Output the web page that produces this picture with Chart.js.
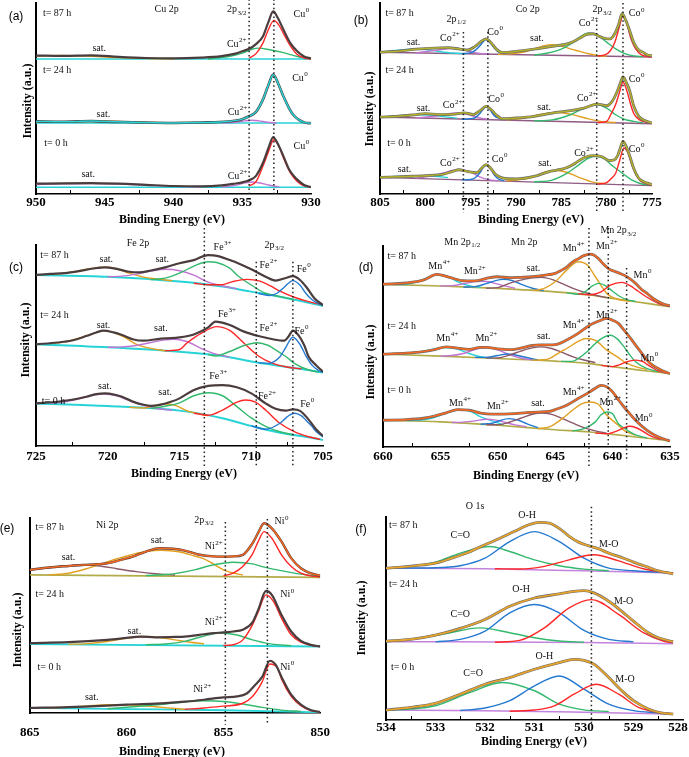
<!DOCTYPE html>
<html>
<head>
<meta charset="utf-8">
<script src="https://cdn.jsdelivr.net/npm/chart.js@4.4.1/dist/chart.umd.min.js"></script>
<style>
  html, body { margin: 0; padding: 0; background: #fff; overflow: hidden; width: 689px; height: 757px; }
  #fig { position: relative; width: 689px; height: 757px; overflow: hidden; }
  #fig canvas { position: absolute; }
  .txt { position: absolute; white-space: nowrap; color: #000; transform: translate(-50%, -50%); }
  .ytitle { font: bold 12px "Liberation Serif", serif; transform: translate(-50%, -50%) rotate(-90deg); }
  .xtitle { font: bold 12px "Liberation Serif", serif; }
  .letter { font: 12px "Liberation Sans", sans-serif; }
</style>
</head>
<body>
<div id="fig"></div>
<script>
/* ---- data : [binding energy (eV), intensity (a.u.)], spectra stacked 87 h / 24 h / 0 h ---- */

// (a) Cu 2p
const CU_87_BG  = [[950,70.7],[930,70.7]];
const CU_87_SAT = [[950,72.2],[948,72.5],[946,72.1],[944,71.4],[942,70.9],[940,70.7]];
const CU_87_CU2 = [[937.5,70.7],[936,72],[935,73.8],[934.3,75.8],[933.8,76.4],[933,75.5],[932,74],[931,72],[930,71]];
const CU_87_CU0 = [[934.5,71.2],[934,73.5],[933.5,79],[933.1,86],[932.7,90.9],[932.3,88],[932,84],[931.5,77.5],[931,73],[930.5,71.2],[930,70.7]];
const CU_87_ENV = [[950,72.5],[948,72.3],[946,72.6],[944,71.8],[942,71.2],[940,71],[938,71.4],[936.5,72.2],[935.5,73.5],[935,74.7],[934.5,76],[934,78.5],[933.5,82.5],[933.1,90],[932.75,95.6],[932.4,92],[932,86],[931.5,79],[931,74.7],[930.5,72],[930,71]];
const CU_24_BG  = [[950,37.2],[930,37.2]];
const CU_24_SAT = [[950,37.6],[947,37.9],[945,38.1],[943,37.7],[941,37.3]];
const CU_24_CU2 = [[936.5,37.2],[935.5,37.6],[934.8,38.3],[934.3,38.6],[933.8,38.3],[933.2,37.6],[932.5,37.2]];
const CU_24_ENV = [[950,38],[948,37.8],[946,38.2],[945,37.9],[943,37.6],[940,37.2],[938,37.4],[936,38],[935,39.2],[934.5,40.7],[934,43],[933.5,49.4],[933.1,57],[932.75,62.5],[932.4,58],[932,51],[931.6,45],[931.3,41.5],[930.8,38.5],[930.5,37.5],[930,37]];
const CU_0_BG   = [[950,3.5],[930,3.5]];
const CU_0_SAT  = [[950,5],[948,5.3],[946,5.5],[944,5.2],[942,4.6],[940,4],[938,3.6]];
const CU_0_CU2  = [[936.5,3.6],[935.5,4.5],[934.8,5.8],[934.3,6.3],[933.8,5.9],[933,4.6],[932.3,3.7]];
const CU_0_CU0  = [[934.5,4.2],[934,6.5],[933.5,14.5],[933.1,22],[932.7,28.4],[932.3,24.5],[932,18.8],[931.5,11],[931,6.6],[930.5,4.3],[930,3.6]];
const CU_0_ENV  = [[950,5.4],[948,5.6],[946,5.7],[944,5.4],[942,4.8],[940,4.2],[938,4],[936.5,4.5],[935.5,5.5],[935,6.1],[934.5,7.2],[934,9.5],[933.5,16.2],[933.1,24],[932.75,29.8],[932.4,26],[932,19.7],[931.6,13],[931.2,9],[931,7.5],[930.5,4.7],[930,3.6]];

// (b) Co 2p
const CO_87_BG   = [[805,74.2],[775,71.7]];
const CO_87_SAT1 = [[805,74.3],[803.5,75],[802,75.7],[801,75.9],[800,75.6],[798.5,74.6],[797,73.8],[795.5,73.5]];
const CO_87_CO2B = [[801,73.9],[799.5,74.8],[798,75.8],[797,76.1],[796,75.6],[795,74.5],[794,73.6],[793,73.2]];
const CO_87_CO0B = [[796,73.5],[795,74],[794.5,75.2],[794,77.5],[793.6,79.8],[793.3,80.8],[792.9,79.5],[792.4,76.5],[792,74.5],[791.5,73.5],[791,73.1]];
const CO_87_SAT2 = [[792,73.1],[790,73.7],[789,74.5],[788,76],[787,77.5],[786,78.2],[785,77.5],[784,76],[783,74.7],[782,73.4],[781,72.5],[780,72.2]];
const CO_87_CO2  = [[788,72.7],[786.5,73.8],[785,75.9],[784,78.5],[783,82],[782,84.3],[781,83],[780,79.5],[779,76],[778,73.5],[777,72.3],[776,71.9]];
const CO_87_CO0  = [[781,72.3],[780.2,72.8],[779.6,75],[779.1,79.5],[778.6,87.5],[778.2,93.4],[777.8,89.5],[777.3,81],[776.8,76],[776.2,73],[775.5,72],[775,71.7]];
const CO_87_ENV  = [[805,74.2],[803,74.8],[801,75.8],[799,76.4],[797.5,76.6],[796.2,75.9],[795.3,75.4],[794.5,77.3],[793.8,80],[793.3,81.2],[792.7,79],[792.2,76],[791.6,74.2],[791,74.2],[790,74.7],[788,75.9],[786,77.3],[784,79.1],[783,81.5],[782.2,83.6],[781.5,83.9],[780.8,82.5],[780.2,81.5],[779.6,81.2],[779.1,84],[778.7,88.5],[778.3,94.4],[777.9,91],[777.5,86],[777,79.1],[776.5,75.6],[776,74.2],[775.5,72.8],[775,72.4]];
const CO_24_BG   = [[805,40.3],[775,36.8]];
const CO_24_SAT1 = [[805,40.3],[803,40.9],[801.5,41.4],[800.5,41.5],[799.5,41.3],[798,40.5],[796.5,39.7]];
const CO_24_CO2B = [[801,39.9],[799,40.7],[797.8,41.8],[796.5,42.4],[795.3,41.6],[794,39.8],[793,39.1]];
const CO_24_CO0B = [[796,39.1],[795,39.4],[794.5,40],[794,42],[793.6,44.5],[793.3,45.5],[792.9,44.3],[792.4,41],[792,39.8],[791.3,39]];
const CO_24_SAT2 = [[791,38.8],[789,39.8],[787.5,41.5],[785.5,42.8],[784,41.8],[782,39.3],[780.5,37.9],[779,37.4]];
const CO_24_CO2  = [[788,38.3],[786,38.8],[784,41.5],[782.5,45],[781.2,46.8],[780,45],[779,41.5],[778,39],[777,38],[776,37.3]];
const CO_24_CO0  = [[781,37.4],[780,38],[779.5,42],[779,47],[778.6,53],[778.2,58.5],[777.8,54.5],[777.3,46],[777,42],[776.5,39.3],[776,38],[775,37]];
const CO_24_ENV  = [[805,40.3],[803,40.7],[801,41.6],[800,42.1],[798.5,41.6],[797,41.7],[795.7,42.5],[794.7,41.6],[794,43.5],[793.3,45.9],[792.7,44],[792.2,41.5],[791.5,39.4],[790,39.8],[788,40.7],[786,42.4],[784,43.6],[782.5,45],[781,47.1],[780,46.2],[779.4,48.5],[778.9,53],[778.5,58],[778.2,61.3],[777.8,58],[777.5,54.6],[777,45.9],[776.5,41],[776,38.9],[775,37.2]];
const CO_0_BG    = [[805,8.7],[775,4.4]];
const CO_0_SAT1  = [[805,8.7],[803,9.2],[801,9.6],[799,9.3],[797.5,8.6]];
const CO_0_CO2B  = [[801,8.3],[799.5,9.2],[798,11],[796.5,12.7],[795,11.5],[794,9],[793,7.5],[792,7]];
const CO_0_CO0B  = [[796,7.4],[795,7.6],[794.5,8.5],[794,11],[793.6,14],[793.3,15],[792.9,13.8],[792.4,10],[792,8],[791.3,7]];
const CO_0_SAT2  = [[791,6.9],[789.5,7.5],[788,9],[786.8,11.5],[785.7,12.4],[784.5,11.5],[783,8.6],[781.5,6.2],[780,5.3]];
const CO_0_CO2   = [[788,6.3],[786,7.3],[784.5,10.5],[783,15.5],[782,18.8],[781.2,19.7],[780.3,18.5],[779.3,14.5],[778.3,11],[777.3,7.5],[776.3,5.5],[775.5,4.8]];
const CO_0_CO0   = [[781,5.2],[780,6],[779.4,8.5],[779,11],[778.6,17],[778.1,24.1],[777.7,22],[777.2,15],[776.8,10.5],[776.3,7],[775.5,5.2],[775,4.7]];
const CO_0_ENV   = [[805,8.7],[802,9.2],[800,9.6],[798,10.4],[797,11.8],[796.3,12.7],[795.3,11.7],[794.3,11.2],[793.8,13.5],[793.3,15.4],[792.8,13.5],[792.3,10.5],[791.5,8.4],[790,7.9],[788,9.2],[786.5,11.5],[785.6,12.4],[784.5,13.6],[783.5,16],[782.5,19],[781.5,20.1],[780.5,19.5],[779.7,17.5],[779.2,17.8],[778.8,20],[778.5,24],[778.2,27.6],[777.9,25.5],[777.5,20.6],[777,13.2],[776.5,8.5],[776,6.6],[775,4.9]];

// (c) Fe 2p
const FE_87_BG   = [[725,85.1],[720,84.2],[715,81.8],[712,79.3],[710,76.8],[708,74.3],[706,71.3],[705,69.7]];
const FE_87_SAT1 = [[724,85.3],[723,86],[722,87.2],[721,88.5],[720.2,88.9],[719.4,88.2],[718.5,86],[717.5,84],[716.5,83],[715.5,82.2]];
const FE_87_SAT2 = [[720,84.2],[719,84.5],[718,85.5],[717,87],[716,87.9],[715,87.2],[714,85],[713,81.5],[712,79.6],[711,78.2]];
const FE_87_FE3  = [[717,82.8],[716,83.5],[715,86],[714,89.5],[713,91.7],[712.4,91.3],[711.5,88.5],[711,85.1],[710,80.1],[709,76],[708,74.3],[707,72.8]];
const FE_87_FE2  = [[714,81],[713,80.2],[712,80.3],[711.3,81.8],[710.3,82.9],[709.4,82],[708.7,79.8],[708,77],[707,74],[706,71.8],[705,70.2]];
const FE_87_FE0  = [[709.5,75.9],[708.7,74.9],[708.2,76],[707.7,79],[707.1,82.3],[706.6,80],[706.2,76],[705.8,73],[705.3,70.8],[705,70]];
const FE_87_ENV  = [[725,85.1],[724,85.6],[723,86],[722,87],[721,88.3],[720.2,88.9],[719.3,88],[718.5,86.7],[717.8,86.4],[717,87.3],[716,88.9],[715,90.9],[714,92.5],[713,95],[712.3,94.5],[711.5,92.5],[711,91.2],[710,87.9],[709,84.2],[708.3,82.3],[707.6,83.6],[707.1,84.5],[706.6,82.6],[706.1,78.5],[705.6,73.5],[705,70.1]];
const FE_24_BG   = [[725,50.6],[720,49.1],[715,46.9],[712,44.8],[710,42],[708,39.8],[706,37.8],[705,36.5]];
const FE_24_SAT1 = [[724,50.9],[723,51.8],[722,53.6],[721,56],[720.3,57.4],[719.5,56.2],[718.8,54],[718,50.6],[717,48.6],[716,47.4]];
const FE_24_SAT2 = [[720,49.1],[719,49.3],[718,50],[717,51.5],[716,52.8],[715.4,53.1],[714.5,52],[713.5,48.6],[712.5,45.8],[711.5,44.2]];
const FE_24_FE3  = [[716,47.4],[715,48],[714.5,51.1],[713.5,56],[712.4,59.4],[711.5,57.5],[710.5,51.1],[709.5,44.8],[708.5,41.1],[707.5,39.3],[706.5,38.3]];
const FE_24_FE2  = [[713,45.5],[712.5,44.8],[711.5,47],[710.5,50],[709.6,51.4],[708.8,50],[708.3,47.8],[707.5,44],[707,41.1],[706,37.8],[705.3,36.8]];
const FE_24_FE0  = [[709.5,41.5],[708.8,41.1],[708,44.4],[707.6,49],[707.1,54.1],[706.6,50.5],[706.2,45],[705.8,40.5],[705.3,37.5],[705,36.7]];
const FE_24_ENV  = [[725,50.6],[723.5,51.5],[722.5,52.5],[721.5,54.7],[720.8,56.5],[720.3,57.4],[719.6,56.5],[719,55.2],[718.2,53],[717.5,52.4],[716.5,53.2],[716,53.5],[715,54],[714,55.5],[713,59],[712.5,61.9],[711.5,60.2],[710.5,56.9],[709.5,54.7],[708.5,53.1],[707.7,52.4],[707.4,54.5],[707.1,57.4],[706.7,55],[706.3,50],[706,44.4],[705.5,40.3],[705,37]];
const FE_0_BG    = [[725,21.2],[720,19.9],[715,17.6],[712,13.8],[710,10],[708,6.6],[706,4.3],[705,3]];
const FE_0_SAT1  = [[724,21.3],[723,22],[722,23.5],[721,25.3],[720.2,25.9],[719.3,24.8],[718.5,22.6],[717.5,20.2],[716.5,18.5],[715.5,17.8]];
const FE_0_SAT2  = [[718.5,19.2],[717.5,18.9],[716.8,20],[716,20.9],[715.3,20.2],[714.5,17.6],[713.5,15.8],[713,15.1]];
const FE_0_FE3   = [[717,18.7],[716,19.8],[715,21.5],[714,25],[713,26.5],[712,25],[711,19.6],[710,14],[709,9.8],[708,7.1],[707,5.5]];
const FE_0_FE2   = [[714,16.3],[713,15.3],[712,17.9],[711,21.8],[710.4,22.9],[709.7,21.8],[709,17.9],[708,11.3],[707,7.1],[706,4.6],[705.2,3.3]];
const FE_0_FE0   = [[710,10],[709,8.3],[708,11.3],[707.5,14.5],[707,16.3],[706.5,15],[706.2,12.9],[705.8,10],[705.5,7.3],[705,4.5]];
const FE_0_ENV   = [[725,21.2],[723.5,22],[722.5,23],[721.5,24.5],[720.8,25.8],[720.2,26.2],[719.5,25.5],[719,24.5],[718.3,22.2],[717.5,20.5],[717,20],[716.3,20.6],[715.6,22],[715,23.7],[714,27.9],[713,29.9],[712,30.3],[711,29.2],[710,26.2],[709,21.2],[708.3,18.5],[707.6,17.6],[707.1,18.2],[706.6,17.5],[706.1,14],[705.5,8.5],[705,5]];

// (d) Mn 2p
const MN_87_BG   = [[660,80.9],[655,80.1],[650,78.9],[645,77.2],[642,75.6],[640,73.9],[638,72.3],[636,70.6],[635,69.8]];
const MN_87_MN4B = [[659,80.8],[658,81],[657,82.2],[656,84.5],[655.2,85.9],[654.3,84.8],[653.5,82.2],[652.5,80.3],[651.5,79.4]];
const MN_87_MN2B = [[655,80.1],[654,80.3],[653,81.2],[652,82.3],[651.3,82.5],[650.5,81.8],[649.5,80.3],[648.5,79]];
const MN_87_X    = [[653,79.6],[652,79.8],[651,81.3],[650.2,82.8],[649.5,83.4],[648.7,82.7],[648,81],[647,79],[646,77.8]];
const MN_87_SAT  = [[651,79],[650,79.3],[649,81.4],[648,83],[647,84.2],[646.2,84.4],[645.3,83.4],[644.5,81.5],[643.5,79],[642.5,77],[641.5,75.5],[640.5,74.3]];
const MN_87_MN4  = [[647,77.8],[646,78.8],[645,82.2],[644,88],[643,92.2],[642.2,90.5],[641.5,84.7],[640.5,76.4],[639.5,73.4],[638.5,72.5]];
const MN_87_MN2  = [[644,76.7],[643,76],[642.4,77.2],[641.8,80],[641.2,81.4],[640.6,80.2],[640,77.5],[639.4,75],[638.7,73.2],[638,72.4]];
const MN_87_MN0  = [[643,76.3],[642,75.7],[641,77.2],[640.2,80.5],[639.2,81.9],[638.4,80],[638,78.4],[637,74.5],[636,71.4],[635,70]];
const MN_87_ENV  = [[660,81],[658,81.6],[656.5,83],[655.3,85.9],[654.2,84.4],[653,82.7],[652,82.6],[651,83.9],[650,84.7],[649,84.2],[648,84.4],[647,84.7],[646,85.4],[645,86.4],[644.5,87.8],[644,89.5],[643.5,92],[643,93.6],[642.5,95.2],[642,96],[641.6,95.4],[641.2,93.5],[640.8,91],[640.3,88.5],[639.8,87.3],[639.3,86.2],[638.7,84.5],[638,81.4],[637.5,78.5],[637,76.4],[636.5,74],[636,72.3],[635.5,71],[635,70.3]];
const MN_24_BG   = [[660,46.2],[655,45.2],[650,44],[645,42.7],[642,41.5],[640,39.9],[638,38.5],[636,37.2],[635,36.5]];
const MN_24_MN4B = [[659,46.1],[657.5,46.8],[656.5,47.5],[655.5,48.8],[654.5,49.5],[653.5,48.7],[652.5,46.5],[651.5,44.9],[650.5,44.2]];
const MN_24_MN2B = [[655,45.2],[654,45.5],[653,46.5],[652,48.5],[651,49.5],[650,48.3],[649,46],[648,44.3],[647,43.3]];
const MN_24_X    = [[652,44.6],[651,44.6],[650,45.5],[649.2,46.3],[648.5,45.8],[647.5,44.5],[646.5,43.3]];
const MN_24_SAT  = [[651,44.2],[650,44.3],[649,45.7],[648,47.7],[647,49.3],[646.2,49.8],[645.3,49],[644.5,47.3],[643.5,45],[642.5,43.3],[641.5,42]];
const MN_24_MN4  = [[647,43.2],[646,43.4],[645.5,44],[644.5,47.5],[644,49],[643,52.5],[642.3,54],[641.5,53],[640.5,48.2],[639.5,44.5],[639,42.4],[638,40],[637,38.5]];
const MN_24_MN2  = [[644.5,42.6],[643.5,42.6],[643,44],[642.3,47],[641.5,51.5],[640.8,54.5],[640.2,55.6],[639.6,53.8],[639,49.8],[638.5,45.8],[638,42.4],[637,39],[636,37.5]];
const MN_24_MN0  = [[641,40.6],[640,40],[639.5,40.7],[638.8,42.3],[638,43.2],[637.3,42.3],[637,41.1],[636.5,39.3],[636,37.9],[635.3,36.8]];
const MN_24_ENV  = [[660,46.2],[658,46.7],[656.5,47.5],[655.5,48.5],[654.5,49.8],[653.5,49.2],[652.5,48.6],[651.5,49.6],[651,49.6],[650,48.8],[649,48.4],[648,49.2],[647,50.5],[646.3,50.8],[645.5,50.8],[645,50.9],[644,53.2],[643,56.5],[642,60.6],[641,63.1],[640.5,64],[640,63.1],[639.5,61.5],[639,58.1],[638.5,54.5],[638,50.7],[637.5,47],[637,43.2],[636.5,40.6],[636,39],[635.5,37.5],[635,36.5]];
const MN_0_BG    = [[660,13.3],[655,12.5],[650,10.8],[645,8.6],[642,7.5],[640,6.3],[638,5],[636,3.7],[635,3]];
const MN_0_MN4B  = [[658,13.2],[657,13.3],[656,14],[655,15.8],[654,17.8],[653.2,18.6],[652.4,17.8],[651.5,15],[650.5,13],[649.5,11]];
const MN_0_MN2B  = [[654,12.2],[653,12.4],[652,13],[651,13.8],[650.3,13.5],[649.5,12.5],[648.5,11],[647.5,10.1]];
const MN_0_X     = [[651.5,11.3],[650.5,11.8],[649.8,13.2],[649,14.1],[648.2,13.3],[647.5,11.6],[646.5,9.6]];
const MN_0_SAT   = [[651,11.1],[650,11.1],[649,12.3],[648,14.3],[647,16.3],[646.2,16.9],[645.3,16.2],[644.5,14.5],[643.5,12],[642.5,9.6],[641.5,8],[640.5,6.8]];
const MN_0_MN4   = [[646.5,9.1],[645.5,10],[645,11.6],[644.3,14.5],[643.5,18.3],[642.7,21.5],[642,22.4],[641.3,21.5],[640.5,15.8],[639.5,10.8],[639,8.3],[638,5.8]];
const MN_0_MN2   = [[643.5,8],[642.5,9.1],[641.5,12.5],[641,16],[640.5,17.4],[640,16.5],[639.5,11.6],[639,9.5],[638.5,7.5],[638,6],[637,4.4]];
const MN_0_MN0   = [[641.5,6.9],[640.5,6.6],[639.5,8.3],[639,9.6],[638.5,10.3],[638,9.7],[637.5,8.3],[637,6.5],[636.5,5],[635.8,3.8]];
const MN_0_ENV   = [[660,13.3],[658,13.6],[656.5,14.3],[655.5,15.4],[654.5,17],[653.5,18.6],[652.5,18.3],[651.5,16.9],[650.5,16.4],[649.5,16.4],[648.5,16.6],[647.5,17.1],[646.5,17.4],[645.5,17.7],[645,18.6],[644,20.8],[643,24.1],[642,27.4],[641.3,30],[641,30.7],[640.5,29.9],[640,27.4],[639.5,23.5],[639,19.9],[638.5,16.5],[638,13.3],[637,8.3],[636,5],[635,3]];

// (e) Ni 2p
const NI_87_BG   = [[865,70.8],[850,69.5]];
const NI_87_SAT1 = [[865,73.4],[864,74.5],[863,75.5],[862.3,75.9],[861.5,75.5],[860.5,74],[859.5,72.5],[858.5,71.4],[857.5,70.8]];
const NI_87_SAT2 = [[864,70.9],[863,71.7],[862,74.2],[861,77.5],[860,80.5],[859,82.8],[858.2,83.5],[857.3,82.7],[856.5,80.5],[856,79],[855.5,76.3],[855,73.4],[854.5,71.8],[854,70.8]];
const NI_87_NI2  = [[859,70.5],[858,71],[857.5,71.5],[856.5,73.4],[855.5,76],[854.5,77.3],[853.5,76.5],[853,75.1],[852,73],[851,71.2],[850,70]];
const NI_87_NI0  = [[855,70.3],[854.5,71.7],[854,75.1],[853.5,81.5],[853.2,88],[852.9,93],[852.5,89.6],[852,81.1],[851.5,75.1],[851,71.7],[850.5,70.3],[850,69.8]];
const NI_87_ENV  = [[865,73.4],[864,74.6],[863,75.4],[862.3,75.9],[861.5,76.3],[861,76.8],[860.3,78.5],[859.6,80.5],[859,82.8],[858.3,84.5],[857.6,84.2],[857,83.3],[856.3,81.3],[855.5,80.3],[855,80.2],[854.5,80.3],[854,81.1],[853.5,87],[853.2,92.5],[852.9,97.3],[852.5,94.7],[852,87.9],[851.5,79.4],[851,74.2],[850.5,71.7],[850,70.5]];
const NI_24_BG   = [[865,35.3],[850,34.1]];
const NI_24_SAT  = [[863,35.2],[862,35.6],[861,36.7],[860,38.3],[859.2,39.2],[858.3,38.7],[857.5,37.5],[857,36.7],[856,35.5]];
const NI_24_NI2  = [[859,35],[858,35.4],[857,36.7],[856,39.5],[855.2,41],[854.3,40],[853.5,37.5],[853,36.3],[852.5,35.3],[851.5,34.5]];
const NI_24_NI0  = [[855,34.6],[854.5,35],[854,37.5],[853.5,45.2],[853.2,52],[852.8,60.6],[852.4,57],[852,48.6],[851.5,40.1],[851,36.3],[850.5,34.7],[850,34.1]];
const NI_24_ENV  = [[865,35.8],[863,36.3],[861,37.5],[860,38.5],[859.3,39.2],[858.5,38.8],[857.5,39],[857,39.2],[856,40.4],[855.5,41],[855,41.3],[854.5,41.8],[854,42.7],[853.5,46.5],[853.2,53],[852.8,62.6],[852.5,60.6],[852,50.3],[851.5,41.8],[851,37],[850.5,35],[850,34.1]];
const NI_0_BG    = [[865,2.6],[860,2],[855,1.4],[850,0.3]];
const NI_0_SAT   = [[864,2.5],[863,3],[862,3.6],[861,4.2],[860.5,4.3],[859.5,4],[858.5,3.2],[857.5,2.3],[857,1.9]];
const NI_0_NI2   = [[861,2.2],[859.5,3.3],[858,4.6],[857,5.6],[856,6.3],[855,5.9],[854,4.6],[853,2.9],[852,1.5],[851,0.8]];
const NI_0_NI0   = [[857,1.9],[856,2.6],[855,3.5],[854,5],[853.5,8.5],[853,16],[852.6,25.1],[852.2,23],[852,17.5],[851.5,8.5],[851,3.7],[850.5,1.3],[850,0.5]];
const NI_0_ENV   = [[865,2.6],[863,3],[861,3.8],[860,4.3],[858,5.1],[857,5.8],[856,6.8],[855,8],[854.3,8.5],[853.8,10],[853.4,14],[853,18.5],[852.6,26.8],[852.3,24.7],[852,18.5],[851.5,9.4],[851,4.3],[850.5,1.5],[850,0.5]];

// (f) O 1s
const O_87_BG  = [[534,74.8],[532,74.5],[530,73.5],[528.2,72.4]];
const O_87_CO  = [[534,74.8],[533.5,75.7],[533,77.8],[532.5,82.2],[531.9,85.5],[531.5,83],[531,78.9],[530.5,76],[530,74.3],[529.5,73.5]];
const O_87_OH  = [[534,74.8],[533,75],[532.5,76],[532,79.7],[531.5,87.9],[531,92.8],[530.5,87.9],[530,79.7],[529.5,74.8],[529,73.5],[528.5,72.8]];
const O_87_MO  = [[531.8,74.5],[531.3,74.4],[530.8,75.7],[530.3,78.9],[529.8,81.4],[529.3,78.4],[528.8,74.5],[528.4,72.9],[528.2,72.4]];
const O_87_ENV = [[534,74.8],[533.7,75.3],[533.4,76],[533,77.3],[532.7,79.5],[532.4,82],[532,86.3],[531.7,89.5],[531.4,93],[531.1,96.3],[530.9,97.4],[530.7,97],[530.5,94.4],[530.3,90.5],[530.1,87.5],[529.9,85.8],[529.7,84.3],[529.5,82.2],[529.2,79.7],[529,77.8],[528.7,75.2],[528.5,73.5],[528.2,72]];
const O_24_BG  = [[534,38.6],[530,38.2],[528.2,37.6]];
const O_24_CO  = [[534,38.6],[533.5,39.7],[532.8,42.5],[532.1,45.4],[531.5,43],[531,40.5],[530.5,38.9],[530,38.3]];
const O_24_OH  = [[533,38.5],[532.5,39.7],[532,43.8],[531.5,52.8],[531,56.9],[530.5,52.8],[530,44.1],[529.5,39.7],[529,38.5]];
const O_24_MO  = [[531.8,38.3],[531.3,39.2],[530.8,45.4],[530.3,55.2],[529.85,59.3],[529.3,52],[528.8,43],[528.4,38.9],[528.2,38]];
const O_24_ENV = [[534,38.9],[533.5,39.7],[533,41.8],[532.5,45.1],[532,49.5],[531.5,56],[531,60.1],[530.5,62.1],[530.2,63.4],[530,63.7],[529.8,62.6],[529.5,58.5],[529.2,52.8],[529,48.7],[528.7,43],[528.5,40.5],[528.2,38.6]];
const O_0_BG   = [[534,4.9],[532,4.6],[530,3.8],[528.2,2.9]];
const O_0_CO   = [[534,4.9],[533.5,5.4],[533,7],[532.3,13.6],[531.65,18.5],[531,14.4],[530.5,7.8],[530,5],[529.5,4.2]];
const O_0_OH   = [[532.5,4.7],[532,5.9],[531.5,9.5],[531,16.8],[530.5,21.7],[530,15.2],[529.5,7.8],[529,4.6],[528.5,3.5]];
const O_0_MO   = [[531.5,4.3],[531,4.9],[530.6,7],[530.2,12.7],[529.75,17.6],[529.3,12.7],[528.9,6.2],[528.5,3.8],[528.2,3]];
const O_0_ENV  = [[534,4.9],[533.5,6.2],[533,8.2],[532.5,12.7],[532,17.6],[531.5,20.9],[531,25],[530.5,28.3],[530.2,29.9],[530,29.4],[529.8,27.5],[529.5,20.9],[529.2,13.6],[529,9.5],[528.7,5.4],[528.5,3.8],[528.2,2.9]];

/* ---- reference lines [eV, from, to] and peak labels [eV, intensity, text, align] ---- */
const DOT_A = [[934.5,102,0],[932.7,102,0]];
const DOT_B = [[795.8,84.8,-10],[793.1,84.8,-10],[781.1,91,-10],[778.2,100,-10]];
const DOT_C = [[713.27,108.5,-10.4],[709.65,91.7,-10.4],[707.1,91.7,-10.4]];
const DOT_D = [[642.06,109,-10.1],[640.38,109,103.5],[640.38,96,0],[638.78,89,-6.6]];
const DOT_E = [[854.9,98,-6],[852.73,99.5,-6]];
const DOT_F = [[529.85,105,-1.5]];

const LAB_A = [[949.5,94.8,'t= 87 h','l'],[940.5,96.5,'Cu 2p'],[935.4,96.5,'2p_3/2'],[930.7,93.9,'Cu^0'],[945.4,76.4,'sat.'],[935.4,78.2,'Cu^2+'],
  [949.5,64.6,'t= 24 h','l'],[930.8,60.4,'Cu^0'],[945.1,41.5,'sat.'],[935.35,42.8,'Cu^2+'],
  [949.4,26.4,'t= 0 h','l'],[930.7,25,'Cu^0'],[946.2,10.1,'sat.'],[935.35,9.2,'Cu^2+']];
const LAB_B = [[804.4,94.4,'t= 87 h','l'],[796.6,91.6,'2p_1/2'],[788.7,96.5,'Co 2p'],[780.5,96.5,'2p_3/2'],[776.7,94.4,'Co^0'],[801.3,79.4,'sat.'],[797.3,81.7,'Co^2+'],[792.3,84.6,'Co^0'],[787.7,81.7,'sat.'],[782,89.2,'Co^2+'],
  [804.4,64.6,'t= 24 h','l'],[776.7,59.9,'Co^0'],[800.2,45,'sat.'],[797,46.2,'Co^2+'],[792.2,49.7,'Co^0'],[786.9,45.5,'sat.'],[782.2,50.3,'Co^2+'],
  [804.2,26.4,'t= 0 h','l'],[776.7,23.6,'Co^0'],[802.3,13.1,'sat.'],[797.3,16.2,'Co^2+'],[791.8,18.3,'Co^0'],[786.8,16.2,'sat.'],[782.5,21.5,'Co^2+']];
const LAB_C = [[724.7,95,'t= 87 h','l'],[717.9,101,'Fe 2p'],[712,99,'Fe^3+'],[708.4,100,'2p_3/2'],[720.1,93,'sat.'],[716.2,93,'sat.'],[708.8,90,'Fe^2+'],[706.35,88,'Fe^0'],
  [724.7,65.2,'t= 24 h','l'],[720.3,60.2,'sat.'],[716.3,58.7,'sat.'],[711.7,65.7,'Fe^3+'],[708.8,58.7,'Fe^2+'],[706.5,56.9,'Fe^0'],
  [724.6,22,'t= 0 h','l'],[720.2,29.5,'sat.'],[716,26.5,'sat.'],[712.3,34.5,'Fe^3+'],[708.9,24.5,'Fe^2+'],[706.1,20.9,'Fe^0']];
const LAB_D = [[653.1,102,'Mn 2p_1/2'],[647.7,101.8,'Mn 2p'],[639.5,107.6,'Mn 2p_3/2'],[643.4,98.8,'Mn^4+'],[640.5,99.7,'Mn^2+'],
  [659.6,95,'t= 87 h','l'],[655.1,90,'Mn^4+'],[652,87.2,'Mn^2+'],[646.9,88.9,'sat.'],[637.4,85.5,'Mn^0'],
  [659.6,60.1,'t= 24 h','l'],[654.4,54,'Mn^4+'],[651,54,'Mn^2+'],[646,55.2,'sat.'],[643.4,60.6,'Mn^4+'],[640.5,65.6,'Mn^2+'],[636.8,44,'Mn^0'],
  [659.6,28.2,'t= 0 h','l'],[653.3,21.6,'Mn^4+'],[650,20.3,'Mn^2+'],[646.5,21.9,'sat.'],[643.4,27.4,'Mn^4+'],[640.2,22.4,'Mn^2+'],[637.3,14.1,'Mn^0']];
const LAB_E = [[864.7,95.1,'t= 87 h','l'],[861,96.1,'Ni 2p'],[856,99,'2p_3/2'],[852,98.1,'Ni^0'],[863,79.7,'sat.'],[858.4,88.3,'sat.'],[855.5,85.3,'Ni^2+'],
  [864.7,60.9,'t= 24 h','l'],[851.7,60.6,'Ni^0'],[859.6,42.1,'sat.'],[855.5,46.6,'Ni^2+'],
  [864.6,23.3,'t= 0 h','l'],[851.7,23.3,'Ni^0'],[861.8,8,'sat.'],[856.1,11.9,'Ni^2+']];
const LAB_F = [[532.2,105,'O 1s'],[531.15,101,'O-H'],[533.94,95.7,'t= 87 h','l'],[532.5,90.8,'C=O'],[529.5,86.6,'M-O'],
  [533.94,66.7,'t= 24 h','l'],[531.27,64.2,'O-H'],[532.5,52,'C=O'],[529.2,58.2,'M-O'],
  [533.9,25.8,'t= 0 h','l'],[530.8,31.5,'O-H'],[532.24,22.9,'C=O'],[529.17,20.1,'M-O']];

/* ---- styles ---- */
const SERIF = '"Liberation Serif", "Times New Roman", serif';
const COL = {
  red: '#ff2626', green: '#33b96d', blue: '#2378d0', gold: '#e2a021', purple: '#c274d2',
  cyan: '#28d3d6', brown: '#8c5868', olive: '#b4b12b', orange: '#f26722', amber: '#e8a52a',
  dark: '#4b3d3d', grey: '#6a6a6a', baseCo: '#8e5b84', baseMn: '#b3ab48', baseO: '#c483dd'
};

/* panel geometry in page pixels: plot left/top/right/bottom.
   series are listed bottom layer first. */
const PANELS = [
  { id: 'a', L: 36, T: 3, R: 311, B: 194, min: 930, max: 950, step: 5, tp: 1,
    letter: [16, 16], yt: [27, 101], xt: [172, 219], dotted: DOT_A, labels: LAB_A,
    series: [
      [CU_87_BG, COL.cyan, 1.6], [CU_87_SAT, COL.gold], [CU_87_CU2, COL.green], [CU_87_CU0, COL.red], [CU_87_ENV, COL.dark, 2.2],
      [CU_24_BG, COL.cyan, 1.6], [CU_24_SAT, COL.gold], [CU_24_CU2, COL.purple], [CU_24_ENV, COL.dark, 2.6], [CU_24_ENV, COL.cyan, 1.5],
      [CU_0_BG, COL.cyan, 1.6], [CU_0_SAT, COL.purple], [CU_0_CU2, COL.purple], [CU_0_CU0, COL.red], [CU_0_ENV, COL.dark, 2.2]
    ] },
  { id: 'b', L: 380, T: 3, R: 652, B: 194, min: 775, max: 805, step: 5, tp: 1,
    letter: [361, 20], yt: [369, 109], xt: [531, 219], dotted: DOT_B, labels: LAB_B,
    series: [
      [CO_87_BG, COL.baseCo], [CO_87_SAT1, COL.cyan], [CO_87_CO2B, COL.purple], [CO_87_CO0B, COL.blue], [CO_87_SAT2, COL.gold], [CO_87_CO2, COL.green], [CO_87_CO0, COL.red], [CO_87_ENV, COL.grey, 2.8], [CO_87_ENV, COL.olive, 1.5],
      [CO_24_BG, COL.baseCo], [CO_24_SAT1, COL.cyan], [CO_24_CO2B, COL.purple], [CO_24_CO0B, COL.blue], [CO_24_SAT2, COL.gold], [CO_24_CO2, COL.green], [CO_24_CO0, COL.red], [CO_24_ENV, COL.grey, 2.8], [CO_24_ENV, COL.olive, 1.5],
      [CO_0_BG, COL.baseCo], [CO_0_SAT1, COL.cyan], [CO_0_CO2B, COL.purple], [CO_0_CO0B, COL.blue], [CO_0_SAT2, COL.gold], [CO_0_CO2, COL.green], [CO_0_CO0, COL.red], [CO_0_ENV, COL.grey, 2.8], [CO_0_ENV, COL.olive, 1.5]
    ] },
  { id: 'c', L: 36, T: 245, R: 323, B: 446, min: 705, max: 725, step: 5, tp: 3,
    letter: [16, 267], yt: [25, 340], xt: [184, 473], dotted: DOT_C, labels: LAB_C,
    series: [
      [FE_87_BG, COL.cyan, 2], [FE_87_SAT1, COL.gold], [FE_87_SAT2, COL.purple], [FE_87_FE3, COL.green], [FE_87_FE2, COL.red], [FE_87_FE0, COL.blue], [FE_87_ENV, COL.dark, 2.2],
      [FE_24_BG, COL.cyan, 2], [FE_24_SAT1, COL.gold], [FE_24_SAT2, COL.purple], [FE_24_FE3, COL.red], [FE_24_FE2, COL.green], [FE_24_FE0, COL.blue], [FE_24_ENV, COL.dark, 2.2],
      [FE_0_BG, COL.cyan, 2], [FE_0_SAT1, COL.purple], [FE_0_SAT2, COL.gold], [FE_0_FE3, COL.green], [FE_0_FE2, COL.red], [FE_0_FE0, COL.blue], [FE_0_ENV, COL.dark, 2.2]
    ] },
  { id: 'd', L: 383, T: 246, R: 670, B: 447, min: 635, max: 660, step: 5, tp: 2,
    letter: [366, 267], yt: [370, 362], xt: [526, 475], dotted: DOT_D, labels: LAB_D,
    series: [
      [MN_87_BG, COL.baseMn, 1.6], [MN_87_MN4B, COL.cyan], [MN_87_MN2B, COL.purple], [MN_87_X, COL.blue], [MN_87_SAT, COL.brown], [MN_87_MN4, COL.gold], [MN_87_MN2, COL.green], [MN_87_MN0, COL.red], [MN_87_ENV, COL.grey, 2.8], [MN_87_ENV, COL.orange, 1.7],
      [MN_24_BG, COL.baseMn, 1.6], [MN_24_MN4B, COL.cyan], [MN_24_MN2B, COL.purple], [MN_24_X, COL.blue], [MN_24_SAT, COL.brown], [MN_24_MN4, COL.gold], [MN_24_MN2, COL.green], [MN_24_MN0, COL.red], [MN_24_ENV, COL.grey, 2.8], [MN_24_ENV, COL.orange, 1.7],
      [MN_0_BG, COL.baseMn, 1.6], [MN_0_MN4B, COL.cyan], [MN_0_MN2B, COL.purple], [MN_0_X, COL.blue], [MN_0_SAT, COL.brown], [MN_0_MN4, COL.gold], [MN_0_MN2, COL.green], [MN_0_MN0, COL.red], [MN_0_ENV, COL.grey, 2.8], [MN_0_ENV, COL.orange, 1.7]
    ] },
  { id: 'e', L: 28, T: 518, R: 322, B: 713, min: 850, max: 865, step: 5, tp: 12,
    letter: [7, 528], yt: [17, 630], xt: [172, 751], dotted: DOT_E, labels: LAB_E,
    series: [
      [NI_87_BG, COL.baseMn, 1.8], [NI_87_SAT1, COL.brown], [NI_87_SAT2, COL.gold], [NI_87_NI2, COL.green], [NI_87_NI0, COL.red], [NI_87_ENV, COL.dark, 2.4], [NI_87_ENV, COL.orange, 1.6],
      [NI_24_BG, COL.cyan, 1.8], [NI_24_SAT, COL.gold], [NI_24_NI2, COL.green], [NI_24_NI0, COL.red], [NI_24_ENV, COL.dark, 2.2],
      [NI_0_BG, COL.cyan, 1.8], [NI_0_SAT, COL.gold], [NI_0_NI2, COL.green], [NI_0_NI0, COL.red], [NI_0_ENV, COL.dark, 2.2]
    ] },
  { id: 'f', L: 386, T: 517, R: 683, B: 720, min: 528, max: 534, step: 1, tp: 0,
    lastTickAt: 528.1,
    letter: [361, 529], yt: [361, 618], xt: [534, 741], dotted: DOT_F, labels: LAB_F,
    series: [
      [O_87_BG, COL.baseO, 1.5], [O_87_CO, COL.green], [O_87_OH, COL.blue], [O_87_MO, COL.red], [O_87_ENV, COL.grey, 2.8], [O_87_ENV, COL.amber, 1.7],
      [O_24_BG, COL.baseO, 1.5], [O_24_CO, COL.green], [O_24_OH, COL.blue], [O_24_MO, COL.red], [O_24_ENV, COL.grey, 2.8], [O_24_ENV, COL.amber, 1.7],
      [O_0_BG, COL.baseO, 1.5], [O_0_CO, COL.green], [O_0_OH, COL.blue], [O_0_MO, COL.red], [O_0_ENV, COL.grey, 2.8], [O_0_ENV, COL.amber, 1.7]
    ] }
];

/* label with optional superscript (^) or subscript (_) */
function drawLabel(ctx, px, py, text, align) {
  const m = text.match(/^(.*?)([\^_])(.+)$/);
  const base = m ? m[1] : text;
  const script = m ? m[3] : '';
  ctx.font = '10px ' + SERIF;
  const wBase = ctx.measureText(base).width;
  ctx.font = '7px ' + SERIF;
  const wScript = script ? ctx.measureText(script).width + 0.5 : 0;
  const x0 = align === 'l' ? px : px - (wBase + wScript) / 2;
  ctx.fillStyle = '#111';
  ctx.textAlign = 'left';
  ctx.textBaseline = 'middle';
  ctx.font = '10px ' + SERIF;
  ctx.fillText(base, x0, py);
  if (script) {
    ctx.font = '7px ' + SERIF;
    ctx.fillText(script, x0 + wBase + 0.5, py + (m[2] === '^' ? -4 : 3));
  }
}

/* inner minor ticks, dotted reference lines and labels */
function decorFor(p) {
  return {
    id: 'decor_' + p.id,
    afterDraw(chart) {
      const { ctx, chartArea: a, scales: { x, y } } = chart;
      ctx.save();
      ctx.strokeStyle = '#000';
      ctx.lineWidth = 1;
      for (let v = p.min + p.step / 2; v < p.max; v += p.step) {
        const px = Math.round(x.getPixelForValue(v)) + 0.5;
        ctx.beginPath(); ctx.moveTo(px, a.bottom); ctx.lineTo(px, a.bottom - 4); ctx.stroke();
      }
      ctx.setLineDash([1.5, 2.8]);
      ctx.lineWidth = 1.5;
      ctx.strokeStyle = '#222';
      p.dotted.forEach(([v, y0, y1]) => {
        const px = x.getPixelForValue(v);
        ctx.beginPath(); ctx.moveTo(px, y.getPixelForValue(y0)); ctx.lineTo(px, y.getPixelForValue(y1)); ctx.stroke();
      });
      ctx.setLineDash([]);
      p.labels.forEach(([v, w, t, al]) => drawLabel(ctx, x.getPixelForValue(v), y.getPixelForValue(w), t, al));
      // last tick label squeezed inside the figure edge, as in the source image
      if (p.lastTickAt) {
        ctx.font = 'bold 13px ' + SERIF;
        ctx.fillStyle = '#000';
        ctx.textAlign = 'center';
        ctx.textBaseline = 'middle';
        ctx.fillText(String(p.min), x.getPixelForValue(p.lastTickAt), a.bottom + p.tp + 7.8);
      }
      ctx.restore();
    }
  };
}

function addText(cls, html, pos) {
  const d = document.createElement('div');
  d.className = 'txt ' + cls;
  d.innerHTML = html;
  d.style.left = pos[0] + 'px';
  d.style.top = pos[1] + 'px';
  fig.appendChild(d);
}

const fig = document.getElementById('fig');

PANELS.forEach(p => {
  const W = p.R - p.L + 40;
  const H = p.B - p.T + 60;
  const cv = document.createElement('canvas');
  cv.width = W; cv.height = H;
  cv.style.width = W + 'px'; cv.style.height = H + 'px';
  cv.style.left = (p.L - 20) + 'px';
  cv.style.top = (p.T - 30) + 'px';
  fig.appendChild(cv);

  // Chart.js paints dataset 0 last (on top), so hand the layers over reversed
  const datasets = p.series.map(([pts, color, w]) => ({
    data: pts.map(([x, y]) => ({ x, y })),
    borderColor: color,
    borderWidth: w || 1.4,
    pointRadius: 0,
    cubicInterpolationMode: 'monotone',
    fill: false
  })).reverse();

  new Chart(cv, {
    type: 'line',
    data: { datasets },
    options: {
      responsive: false,
      animation: false,
      devicePixelRatio: 1,
      events: [],
      layout: { padding: { left: 20, right: 20, top: 30, bottom: 0 } },
      plugins: { legend: { display: false }, tooltip: { enabled: false } },
      scales: {
        x: {
          type: 'linear', reverse: true, min: p.min, max: p.max,
          afterFit: s => { s.height = 30; },
          ticks: { stepSize: p.step, color: '#000', padding: p.tp, maxRotation: 0, autoSkip: false,
                   font: { family: SERIF, size: 13, weight: 'bold' },
                   callback: v => (p.lastTickAt && v === p.min) ? '' : v },
          grid: { display: false, drawTicks: false },
          border: { display: true, color: '#000', width: 1.5 }
        },
        y: {
          min: 0, max: 100,
          afterFit: s => { s.width = 0; },
          ticks: { display: false },
          grid: { display: false, drawTicks: false },
          border: { display: true, color: '#000', width: 2 }
        }
      }
    },
    plugins: [decorFor(p)]
  });

  addText('letter', '(' + p.id + ')', p.letter);
  addText('ytitle', 'Intensity (a.u.)', p.yt);
  addText('xtitle', 'Binding Energy (eV)', p.xt);
});
</script>
</body>
</html>
